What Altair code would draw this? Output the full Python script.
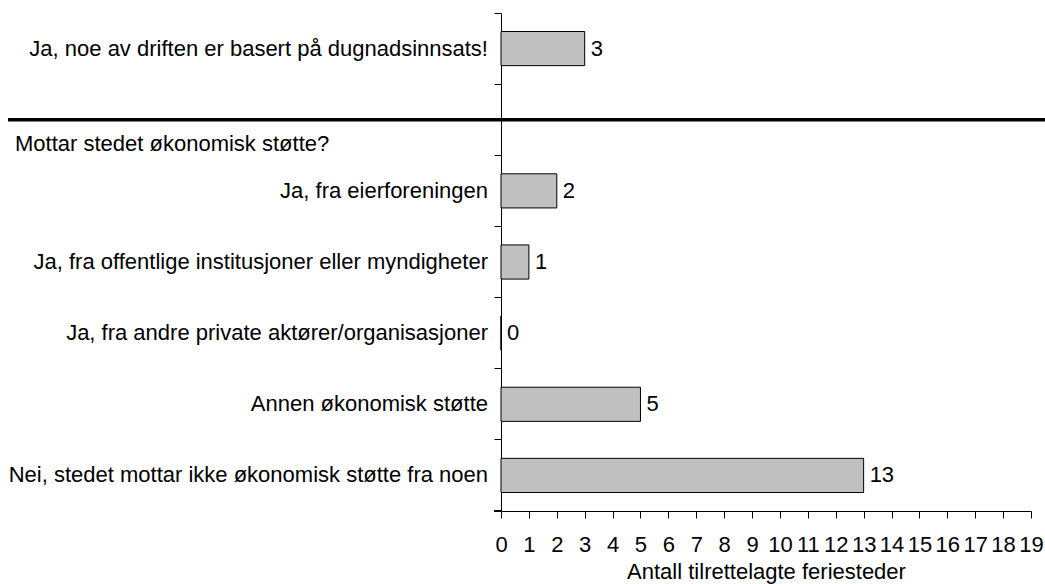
import altair as alt
import pandas as pd

# Rows from top to bottom; the second row is a section header without a bar
categories = [
    "Ja, noe av driften er basert på dugnadsinnsats!",
    "Mottar stedet økonomisk støtte?",
    "Ja, fra eierforeningen",
    "Ja, fra offentlige institusjoner eller myndigheter",
    "Ja, fra andre private aktører/organisasjoner",
    "Annen økonomisk støtte",
    "Nei, stedet mottar ikke økonomisk støtte fra noen",
]
counts = [3, None, 2, 1, 0, 5, 13]
is_header = [False, True, False, False, False, False, False]
x_ticks = list(range(0, 20))
x_title = "Antall tilrettelagte feriesteder"

FONT = "Liberation Sans"
FS = 22

df = pd.DataFrame({"kategori": categories, "antall": counts, "header": is_header})

y_enc = alt.Y(
    "kategori:N",
    sort=categories,
    scale=alt.Scale(paddingInner=0, paddingOuter=0),
    axis=alt.Axis(
        labels=False,
        title=None,
        bandPosition=0,
        tickSize=7,
        tickColor="black",
        domainColor="black",
    ),
)
x_enc = alt.X(
    "antall:Q",
    scale=alt.Scale(domain=[0, 19], nice=False, zero=True),
    axis=alt.Axis(
        values=x_ticks,
        format="d",
        tickSize=7,
        tickColor="black",
        domainColor="black",
        labelColor="black",
        labelFont=FONT,
        labelFontSize=FS,
        labelPadding=16,
        labelFlush=False,
        labelOverlap=False,
        labelBound=False,
        grid=False,
        title=x_title,
        titleFont=FONT,
        titleFontSize=FS,
        titleFontWeight="normal",
        titleColor="black",
        titlePadding=6,
    ),
)

base = alt.Chart(df)
items = base.transform_filter("!datum.header")
head = base.transform_filter("datum.header")

bars = items.mark_bar(
    height={"band": 0.48}, fill="#c0c0c0", stroke="black", strokeWidth=1
).encode(x=x_enc, y=y_enc)

values = items.mark_text(
    align="left", baseline="middle", dx=6, font=FONT, fontSize=FS, color="black"
).encode(x=x_enc, y=y_enc, text=alt.Text("antall:Q", format="d"))

labels = items.mark_text(
    align="right", baseline="middle", font=FONT, fontSize=FS, color="black"
).encode(x=alt.value(-13), y=y_enc, text="kategori:N")

separator = head.mark_rule(color="black", strokeWidth=3.5).encode(
    x=alt.value(-493), x2=alt.value(544), y=y_enc
)

header_text = head.mark_text(
    align="left", baseline="middle", dy=24, font=FONT, fontSize=FS, color="black"
).encode(x=alt.value(-486), y=y_enc, text="kategori:N")

# closing tick at the bottom end of the category axis
end_tick = alt.Chart(df).mark_rule(color="black").encode(
    x=alt.value(-7), x2=alt.value(0), y=alt.value(498)
)

chart = (
    alt.layer(bars, values, labels, separator, header_text, end_tick)
    .properties(
        width=530,
        height=498,
        autosize=alt.AutoSizeParams(type="none"),
        padding={"left": 501, "top": 13, "right": 14, "bottom": 73},
        background="white",
    )
    .configure_view(stroke=None)
)

chart.save("out.html", embed_options={"renderer": "svg", "actions": False})
